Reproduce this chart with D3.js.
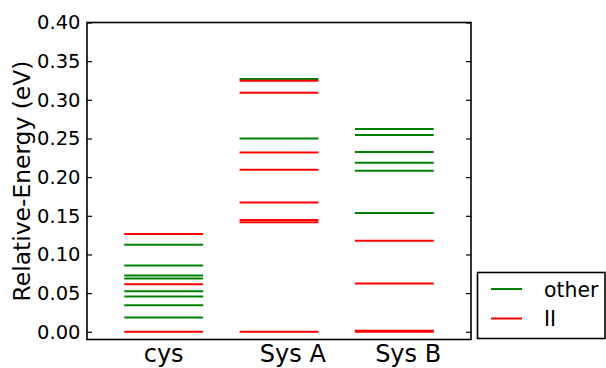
<!DOCTYPE html>
<html>
<head>
<meta charset="utf-8">
<script src="https://cdn.jsdelivr.net/npm/d3@7"></script>
<style>
  html, body { margin: 0; padding: 0; background: #fff; }
  svg { display: block; font-family: "DejaVu Sans", sans-serif; }
</style>
</head>
<body>
<svg id="chart" width="606" height="368"></svg>
<script>
// Systems along the x axis
const categories = ["cys", "Sys A", "Sys B"];
// Where each system's name sits along x (level columns are at 0, 1, 2)
const labelPositions = [0, 1.12, 2.12];

// Energy levels (eV) of the "other" states for each system
const otherLevels = [
  [0.1127, 0.0856, 0.0727, 0.0688, 0.0525, 0.0456, 0.0344, 0.0185],
  [0.3268, 0.2499],
  [0.2624, 0.2546, 0.2326, 0.2185, 0.2082, 0.1535]
];
// Energy levels (eV) of the "II" states for each system
const iiLevels = [
  [0.1265, 0.0615, 0.0],
  [0.3247, 0.3093, 0.2320, 0.2095, 0.1673, 0.1445, 0.1415, 0.0],
  [0.1178, 0.0623, 0.0012, 0.0]
];

const yTicks = [0.00, 0.05, 0.10, 0.15, 0.20, 0.25, 0.30, 0.35, 0.40];
const yDomain = [-0.01, 0.40];
const series = [
  { name: "other", color: "#008000", levels: otherLevels },
  { name: "II", color: "#ff0000", levels: iiLevels }
];

const svg = d3.select("#chart");
const plot = { left: 87, right: 471, top: 22.5, bottom: 339.5 };

const x = d3.scaleLinear().domain([-0.665, 2.665]).range([plot.left, plot.right]);
const y = d3.scaleLinear().domain(yDomain).range([plot.bottom, plot.top]);
const halfWidth = 0.342;

// Level lines
series.forEach(s => {
  const rows = [];
  s.levels.forEach((lv, i) => lv.forEach(v => rows.push({ i, v })));
  svg.append("g").selectAll("line").data(rows).join("line")
    .attr("x1", d => x(d.i - halfWidth))
    .attr("x2", d => x(d.i + halfWidth))
    .attr("y1", d => y(d.v))
    .attr("y2", d => y(d.v))
    .attr("stroke", s.color)
    .attr("stroke-width", 2);
});

// Left axis with inward ticks
const leftAxis = d3.axisLeft(y).tickValues(yTicks).tickFormat(d3.format(".2f"))
  .tickSizeInner(-5).tickSizeOuter(0).tickPadding(6);
const gl = svg.append("g").attr("transform", `translate(${plot.left},0)`).call(leftAxis);
gl.select(".domain").remove();
gl.selectAll(".tick line").attr("stroke", "#000").attr("stroke-width", 1.2);
gl.selectAll(".tick text").attr("font-size", 19.5).attr("fill", "#000")
  .attr("font-family", "DejaVu Sans").attr("dx", -0.5);

// Right axis ticks (no labels)
const rightAxis = d3.axisRight(y).tickValues(yTicks).tickFormat("")
  .tickSizeInner(-5).tickSizeOuter(0);
const gr = svg.append("g").attr("transform", `translate(${plot.right},0)`).call(rightAxis);
gr.select(".domain").remove();
gr.selectAll(".tick line").attr("stroke", "#000").attr("stroke-width", 1.2);

// Category labels
svg.append("g").selectAll("text").data(categories).join("text")
  .attr("x", (d, i) => x(labelPositions[i]))
  .attr("y", 362)
  .attr("text-anchor", "middle")
  .attr("font-size", 24)
  .attr("fill", "#000")
  .text(d => d);

// Frame
svg.append("rect")
  .attr("x", plot.left).attr("y", plot.top)
  .attr("width", plot.right - plot.left).attr("height", plot.bottom - plot.top)
  .attr("fill", "none").attr("stroke", "#000").attr("stroke-width", 1.6);

// Y axis title
svg.append("text")
  .attr("transform", `translate(30,${(plot.top + plot.bottom) / 2}) rotate(-90)`)
  .attr("text-anchor", "middle")
  .attr("font-size", 23.4)
  .attr("fill", "#000")
  .text("Relative-Energy (eV)");

// Legend
const legend = svg.append("g");
legend.append("rect")
  .attr("x", 477.5).attr("y", 272.5).attr("width", 127.5).attr("height", 66)
  .attr("fill", "#fff").attr("stroke", "#000").attr("stroke-width", 1.6);
series.forEach((s, k) => {
  const cy = 289 + k * 29.5;
  legend.append("line")
    .attr("x1", 491).attr("x2", 522).attr("y1", cy).attr("y2", cy)
    .attr("stroke", s.color).attr("stroke-width", 2);
  legend.append("text")
    .attr("x", 544).attr("y", cy + 7.5)
    .attr("font-size", 20.4).attr("fill", "#000")
    .text(s.name);
});
</script>
</body>
</html>
